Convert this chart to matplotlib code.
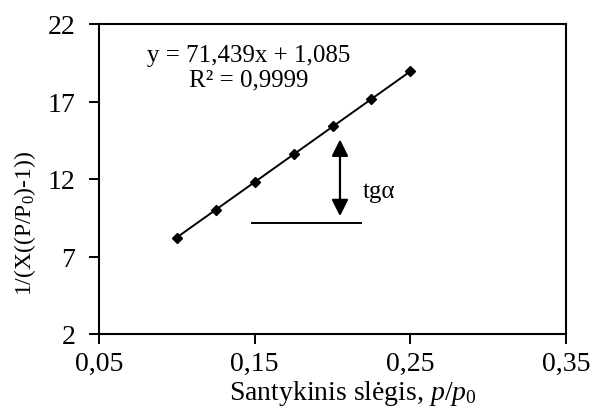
import matplotlib.pyplot as plt
import numpy as np

plt.rcParams['font.family'] = ['Liberation Serif', 'DejaVu Serif']
plt.rcParams['mathtext.fontset'] = 'custom'
plt.rcParams['mathtext.rm'] = 'Liberation Serif'
plt.rcParams['mathtext.it'] = 'Liberation Serif:italic'

# measured points
p_p0 = [0.1, 0.125, 0.15, 0.175, 0.2, 0.225, 0.25]
bet_y = [8.2, 10.0, 11.8, 13.6, 15.4, 17.15, 18.95]

# trendline as given in the chart
slope = 71.439
intercept = 1.085
r2 = 0.9999

xticks = [0.05, 0.15, 0.25, 0.35]
xtick_labels = ['0,05', '0,15', '0,25', '0,35']
yticks = [2, 7, 12, 17, 22]

fig = plt.figure(figsize=(5.92, 4.10), dpi=100)
ax = fig.add_axes([99 / 592, 1 - 335 / 410, 467 / 592, 310 / 410])

xfit = np.array([min(p_p0), max(p_p0)])
ax.plot(xfit, slope * xfit + intercept, color='black', lw=1.4, zorder=2)
ax.plot(p_p0, bet_y, linestyle='none', marker='D', markersize=5.5,
        color='black', zorder=3)

ax.set_xlim(0.05, 0.35)
ax.set_ylim(2, 22)
ax.set_xticks(xticks)
ax.set_xticklabels(xtick_labels)
ax.set_yticks(yticks)
ax.tick_params(axis='both', direction='out', length=7, width=1.4,
               labelsize=20, colors='black')
ax.tick_params(axis='x', pad=5)
ax.tick_params(axis='y', pad=10)
for s in ax.spines.values():
    s.set_linewidth(1.5)
    s.set_color('black')

ax.set_xlabel('Santykinis slėgis, $p/p_0$', fontsize=20)
ax.xaxis.set_label_coords(0.544, -0.142)
ax.set_ylabel('1/(X((P/P$_0$)-1))', fontsize=17)
ax.yaxis.set_label_coords(-0.13, 0.36)

ax.text(0.146, 19.2, 'y = 71,439x + 1,085\nR² = 0,9999', ha='center',
        va='center', fontsize=18, linespacing=1.15)

# slope illustration
ax.plot([0.148, 0.218], [9.16, 9.16], color='black', lw=1.4)
ax.annotate('', xy=(0.2048, 9.6), xytext=(0.2048, 14.55),
            arrowprops=dict(arrowstyle='<|-|>', color='black', lw=1.6,
                            mutation_scale=25, shrinkA=0, shrinkB=0))
ax.text(0.2196, 11.2, 'tgα', fontsize=18, va='center', ha='left')

fig.savefig('out.png', dpi=100)
